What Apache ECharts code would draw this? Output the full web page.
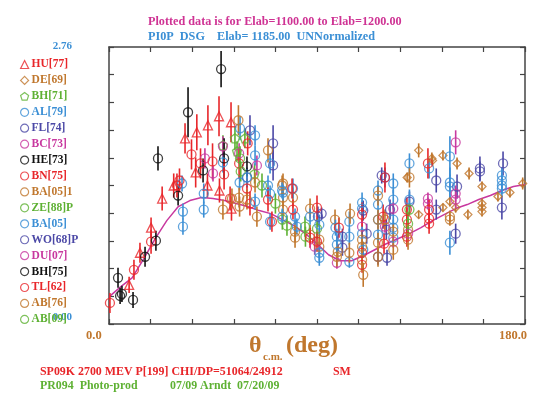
<!DOCTYPE html>
<html><head><meta charset="utf-8">
<script src="https://cdn.jsdelivr.net/npm/echarts@6/dist/echarts.min.js"></script>
<style>html,body{margin:0;padding:0;background:#fff}#c{width:540px;height:398px}</style>
</head><body><div id="c"></div>
<script>
// axis ranges and tick labels
const xMin = 0, xMax = 180, xStep = 18;
const yMin = 0, yMax = 2.76, yStep = 0.276;
const xEndLabels = ['0.0', '180.0'];
const yEndLabels = ['0.00', '2.76'];

// legend names in order
const legendNames = ['HU[77]','DE[69]','BH[71]','AL[79]','FL[74]','BC[73]','HE[73]','BN[75]','BA[05]1','ZE[88]P','BA[05]','WO[68]P','DU[07]','BH[75]','TL[62]','AB[76]','AB[09]'];

// data: [theta, value, error]
const HU77 = [[8.7,0.39,0.08],[13.4,0.71,0.1],[18.2,0.96,0.1],[23,1.25,0.12],[28,1.38,0.12],[32.9,1.85,0.15],[37.5,1.51,0.15],[38,1.91,0.18],[42.6,1.38,0.12],[42.8,1.98,0.2],[47.6,2.07,0.2],[47.8,1.33,0.12],[52.8,2.01,0.2],[53,1.15,0.12]];
const DE69 = [[129,1.46,0.05],[134,1.73,0.07],[134,1.09,0.04],[139.7,1.65,0.06],[140,1.63,0.06],[144.5,1.68,0.05],[144.5,1.16,0.04],[147.5,1.22,0.05],[150,1.16,0.05],[150.6,1.6,0.06],[155.3,1.09,0.05],[155.8,1.5,0.06],[161.4,1.37,0.05],[161.4,1.2,0.05],[161.4,1.16,0.05],[161.4,1.12,0.05],[168.3,1.27,0.05],[173.5,1.31,0.05],[179,1.4,0.06]];
const BH71 = [[49.3,1.78,0.1],[54.5,1.85,0.12],[55.4,1.72,0.1],[58.8,1.85,0.1],[63,1.5,0.1]];
const AL79 = [[31.6,1.4,0.08],[32,1.12,0.08],[32,0.97,0.08],[41,1.3,0.1],[41,1.14,0.08],[49.3,1.61,0.1],[56.7,1.95,0.12],[56.5,1.41,0.08]];
const FL74 = [[61,1.93,0.15],[71,1.8,0.18],[71,1.58,0.15],[59.7,1.46,0.1],[90.4,1.07,0.1],[101,0.87,0.08],[101,0.76,0.08],[110,1.13,0.1],[111.5,0.9,0.1],[119.4,1.46,0.1],[120,0.94,0.1],[120.3,0.66,0.08],[121.6,1.14,0.1],[130,1.22,0.1],[141.6,1.43,0.12],[141.6,1.14,0.1],[150.6,1.37,0.12],[150,0.9,0.1],[160.5,1.55,0.12],[160.5,1.52,0.1],[170.5,1.6,0.12],[170,1.16,0.12]];
const BC73 = [[41.5,1.65,0.1],[49.3,1.77,0.1],[56.3,1.7,0.1],[64,1.58,0.1],[89,0.77,0.08],[98.6,0.61,0.06],[109.5,0.97,0.08]];
const HE73 = [[21.2,1.65,0.12],[29.9,1.28,0.1],[34.2,2.11,0.25],[40.7,1.53,0.12],[48.5,2.54,0.18],[49.8,1.65,0.2],[59.7,1.57,0.1]];
const BN75 = [[0.4,0.21,0.1],[10.8,0.54,0.1],[18.2,0.82,0.12],[29.4,1.38,0.12],[30.5,1.43,0.12],[35.7,1.69,0.15],[39.6,1.6,0.15],[44.8,1.62,0.18],[49.8,1.49,0.15],[52.4,1.25,0.12],[56.3,1.6,0.15],[59.7,1.35,0.1],[60,1.8,0.12],[61,1.2,0.12]];
const BA051 = [[49.3,1.14,0.1],[53.2,1.25,0.1],[56,2.03,0.15],[56.3,1.26,0.1],[56.5,1.17,0.1],[59.7,1.24,0.1],[63.2,1.41,0.1],[64,1.07,0.1],[68.8,1.73,0.12],[74.9,1.38,0.1],[75.3,1.26,0.1],[75.3,1.14,0.1],[75.3,1.4,0.1],[79.6,1.26,0.1],[80.5,0.92,0.1],[80.5,0.86,0.1],[87,1.15,0.1],[87,0.89,0.1],[91,0.84,0.1],[91,0.77,0.1],[97.8,1.04,0.1],[98.6,0.67,0.1],[99,0.72,0.08]];
const ZE88P = [[56.7,1.65,0.12],[57,1.52,0.1],[66.2,1.38,0.12],[72,1.2,0.1],[75,1.04,0.1],[77,0.98,0.1],[84.8,0.97,0.1],[85,0.87,0.1],[90,0.95,0.1]];
const BA05 = [[59.7,1.46,0.08],[63.2,1.88,0.1],[63.2,1.68,0.1],[63.2,1.22,0.08],[68.8,1.38,0.1],[69.7,1.6,0.1],[69.7,1.3,0.08],[69.7,1.02,0.08],[75.3,1.31,0.08],[74.9,1.33,0.08],[75,1.07,0.08],[79.6,1.35,0.1],[80.5,1.07,0.08],[81.3,0.97,0.08],[87,1.07,0.08],[91,0.99,0.1],[91,0.71,0.08],[91,0.66,0.08],[98,0.96,0.08],[98.6,0.87,0.08],[98.6,0.79,0.08],[104,1.02,0.1],[104,0.87,0.08],[104,0.62,0.06],[109.5,1.21,0.1],[109.5,1.15,0.08],[109.5,0.9,0.08],[110,0.74,0.08],[116.4,1.33,0.1],[116.4,1.19,0.08],[116.4,1.04,0.08],[116.4,0.89,0.08],[123,1.4,0.1],[123,1.24,0.1],[123,1.04,0.08],[123,0.96,0.08],[123,0.86,0.08],[130,1.6,0.1],[130,1.24,0.1],[138.5,1.55,0.1],[147.5,1.67,0.2],[147.5,1.41,0.15],[147.5,1.37,0.12],[147.5,0.81,0.12],[170,1.48,0.08],[170,1.43,0.08],[170,1.38,0.08],[170,1.35,0.08]];
const WO68P = [[92,1.1,0.06],[116.4,0.67,0.08],[118,1.48,0.08]];
const DU07 = [[45,1.5,0.08],[119.4,0.97,0.06],[123,1.15,0.06],[123,0.82,0.06],[129.4,0.9,0.06],[138,1.25,0.06],[138,1.2,0.06],[150,1.81,0.12],[150,1.3,0.08],[150,1.24,0.08]];
const BH75 = [[3.9,0.46,0.1],[4.8,0.28,0.08],[5.6,0.3,0.08],[10.4,0.24,0.08],[15.6,0.67,0.1],[20.3,0.83,0.1]];
const TL62 = [[68.8,1.24,0.12],[70.5,1.02,0.1],[79.2,1.35,0.1],[79.6,1.14,0.1],[87,0.86,0.1],[90,1.16,0.12],[90,0.82,0.1],[99.5,0.96,0.1],[109.5,1.09,0.12],[109.5,0.71,0.1],[109.5,0.59,0.08],[119.4,1.46,0.15],[118.6,1.07,0.12],[119,0.8,0.1],[128.9,1.14,0.12],[128.9,1.04,0.12],[128.9,0.87,0.1],[138,1.6,0.15],[138.5,1.14,0.1],[138.5,1.05,0.1],[138.5,1.0,0.1]];
const AB76 = [[104.3,1.1,0.1],[104,0.71,0.1],[109.5,0.84,0.1],[109.5,0.77,0.1],[109.5,0.64,0.1],[110,0.49,0.12],[116.4,1.28,0.1],[116.4,1.04,0.1],[116.4,0.81,0.1],[116.4,0.67,0.1],[119.4,1.04,0.1],[123,0.92,0.08],[123,0.74,0.1],[129.4,0.94,0.1],[129.4,0.84,0.1],[130,1.46,0.1],[147.5,1.07,0.06],[147.5,1.04,0.06]];
const AB09 = [[129.4,1.0,0.12],[130,1.14,0.06]];

// solution curve SM
const curveTheta = [0,5,10,15,20,25,30,35,40,45,50,55,60,65,70,75,80,85,90,95,100,105,110,115,120,125,130,135,140,145,150,155,160,165,170,175,180];
const curveValue = [0.27,0.37,0.46,0.65,0.85,1.03,1.17,1.23,1.26,1.25,1.23,1.2,1.17,1.13,1.1,1.04,0.98,0.9,0.8,0.69,0.63,0.63,0.68,0.74,0.8,0.85,0.9,0.96,1.03,1.09,1.15,1.19,1.24,1.28,1.33,1.37,1.39];

const RED='#e8262a', BROWN='#c0772d', GREEN='#5eb133', BLUE='#3b8fd5', PURPLE='#4b48a6', MAG='#c8389f', BLACK='#111111';
const PENT = 'path://M0,-1L0.951,-0.309L0.588,0.809L-0.588,0.809L-0.951,-0.309Z';
const sets = [
  {name:'HU[77]', data:HU77, color:RED, symbol:'triangle'},
  {name:'DE[69]', data:DE69, color:BROWN, symbol:'diamond'},
  {name:'BH[71]', data:BH71, color:GREEN, symbol:PENT},
  {name:'AL[79]', data:AL79, color:BLUE, symbol:'circle'},
  {name:'FL[74]', data:FL74, color:PURPLE, symbol:'circle'},
  {name:'BC[73]', data:BC73, color:MAG, symbol:'circle'},
  {name:'HE[73]', data:HE73, color:BLACK, symbol:'circle'},
  {name:'BN[75]', data:BN75, color:RED, symbol:'circle'},
  {name:'BA[05]1', data:BA051, color:BROWN, symbol:'circle'},
  {name:'ZE[88]P', data:ZE88P, color:GREEN, symbol:'circle'},
  {name:'BA[05]', data:BA05, color:BLUE, symbol:'circle'},
  {name:'WO[68]P', data:WO68P, color:PURPLE, symbol:'circle'},
  {name:'DU[07]', data:DU07, color:MAG, symbol:'circle'},
  {name:'BH[75]', data:BH75, color:BLACK, symbol:'circle'},
  {name:'TL[62]', data:TL62, color:RED, symbol:'circle'},
  {name:'AB[76]', data:AB76, color:BROWN, symbol:'circle'},
  {name:'AB[09]', data:AB09, color:GREEN, symbol:'circle'}
];

const FONT = '"Liberation Serif", "DejaVu Serif", serif';
const series = [];
sets.forEach(s => {
  series.push({
    type:'custom', name:s.name+'_err', silent:true, z:2,
    data:s.data,
    renderItem:(params, api) => {
      const x = api.value(0), y = api.value(1), e = api.value(2);
      const p1 = api.coord([x, y - e]), p2 = api.coord([x, y + e]);
      return {type:'line', shape:{x1:p1[0], y1:p1[1], x2:p2[0], y2:p2[1]}, style:{stroke:s.color, lineWidth:1.6}};
    }
  });
  series.push({
    type:'scatter', name:s.name, z:3,
    data:s.data.map(d => [d[0], d[1]]),
    symbol:s.symbol, symbolSize: s.symbol==='diamond' ? 8 : 9,
    itemStyle:{color:'rgba(0,0,0,0)', borderColor:s.color, borderWidth:1.3}
  });
});
series.push({
  type:'line', name:'SM', z:1, symbol:'none', silent:true,
  data:curveTheta.map((t,i)=>[t, curveValue[i]]),
  lineStyle:{color:MAG, width:1.5}
});

const axisCommon = {
  axisLine:{show:true, onZero:false, lineStyle:{color:'#444', width:1.5}},
  axisTick:{show:true, inside:true, length:5, lineStyle:{color:'#444', width:1.2}},
  axisLabel:{show:false}, splitLine:{show:false}
};

const chart = echarts.init(document.getElementById('c'), null, {renderer:'canvas'});
chart.setOption({
  backgroundColor:'#fff',
  animation:false,
  grid:{left:109, right:15, top:47, bottom:74},
  xAxis:[
    Object.assign({type:'value', min:xMin, max:xMax, interval:xStep, position:'bottom'}, axisCommon),
    Object.assign({type:'value', min:xMin, max:xMax, interval:xStep, position:'top'}, axisCommon)
  ],
  yAxis:[
    Object.assign({type:'value', min:yMin, max:yMax, interval:yStep, position:'left'}, axisCommon),
    Object.assign({type:'value', min:yMin, max:yMax, interval:yStep, position:'right'}, axisCommon)
  ],
  legend:{
    orient:'vertical', left:20, top:58.5, padding:0, itemGap:3.93,
    itemWidth:8, itemHeight:8, selectedMode:false,
    data: sets.map(s => ({name:s.name, icon:s.symbol,
      itemStyle:{color:'rgba(0,0,0,0)', borderColor:s.color, borderWidth:1.2},
      textStyle:{color:s.color}})),
    textStyle:{fontFamily:FONT, fontWeight:'bold', fontSize:11.5, padding:[0,0,0,-2], lineHeight:11}
  },
  graphic:[
    {type:'text', left:148, top:16, style:{text:'Plotted data is for Elab=1100.00 to Elab=1200.00', fill:'#cf3394', font:'bold 12.2px '+FONT}},
    {type:'text', left:148, top:31, style:{text:'PI0P  DSG    Elab= 1185.00  UNNormalized', fill:BLUE, font:'bold 12.2px '+FONT}},
    {type:'text', right:468, top:41, style:{text:yEndLabels[1], fill:BLUE, font:'bold 11px '+FONT}},
    {type:'text', right:468, top:312, style:{text:yEndLabels[0], fill:BLUE, font:'bold 11px '+FONT}},
    {type:'text', left:86, top:329, style:{text:xEndLabels[0], fill:BROWN, font:'bold 12.5px '+FONT}},
    {type:'text', right:13, top:329, style:{text:xEndLabels[1], fill:BROWN, font:'bold 12.5px '+FONT}},
    {type:'text', left:249, top:334, style:{text:'θ', fill:BROWN, font:'bold 24px '+FONT}},
    {type:'text', left:263, top:352, style:{text:'c.m.', fill:BROWN, font:'bold 11px '+FONT}},
    {type:'text', left:286, top:334, style:{text:'(deg)', fill:BROWN, font:'bold 24px '+FONT}},
    {type:'text', left:40, top:366, style:{text:'SP09K 2700 MEV P[199] CHI/DP=51064/24912', fill:RED, font:'bold 11.9px '+FONT}},
    {type:'text', left:333, top:366, style:{text:'SM', fill:RED, font:'bold 11.9px '+FONT}},
    {type:'text', left:40, top:380, style:{text:'PR094  Photo-prod', fill:GREEN, font:'bold 11.9px '+FONT}},
    {type:'text', left:170, top:380, style:{text:'07/09 Arndt  07/20/09', fill:GREEN, font:'bold 11.9px '+FONT}}
  ],
  series:series
});
</script></body></html>
